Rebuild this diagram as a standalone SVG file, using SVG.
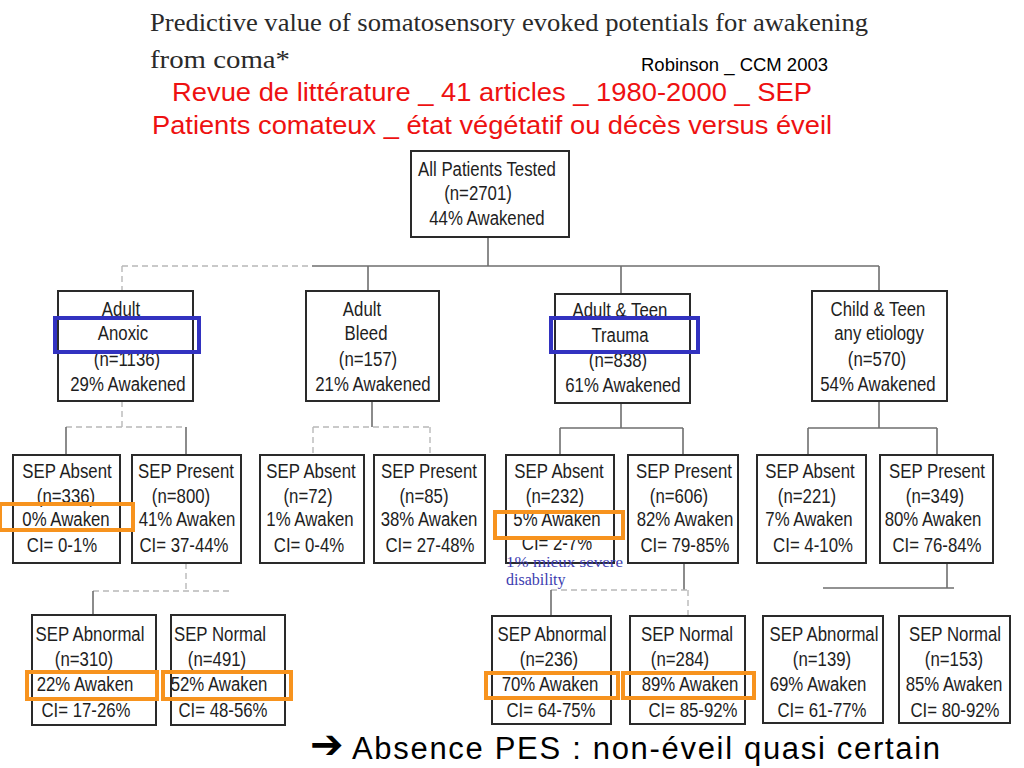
<svg xmlns="http://www.w3.org/2000/svg" width="1024" height="768" viewBox="0 0 1024 768">
<style>
.bg{fill:#ffffff}
.box{fill:#ffffff;stroke:#2a2a2a;stroke-width:2}
.t{font-family:"Liberation Sans",Arial,sans-serif;font-size:21px;fill:#1e1e1e;text-anchor:middle}
.c{fill:none;stroke:#6e6e6e;stroke-width:1.6}
.cf{fill:none;stroke:#b8b8b8;stroke-width:1.4;stroke-dasharray:6 4}
.hb{fill:none;stroke:#3232c0;stroke-width:4}
.ho{fill:none;stroke:#f7931e;stroke-width:4}
.red{font-family:"Liberation Sans",Arial,sans-serif;font-size:25px;fill:#ee1111}
</style>
<rect class="bg" x="0" y="0" width="1024" height="768"/>

<g id="header">
<text x="150" y="31" font-family="Liberation Serif,Times New Roman,serif" font-size="26" fill="#2a2a2a" textLength="718" lengthAdjust="spacingAndGlyphs">Predictive value of somatosensory evoked potentials for awakening</text>
<text x="150" y="68" font-family="Liberation Serif,Times New Roman,serif" font-size="26" fill="#2a2a2a" textLength="140" lengthAdjust="spacingAndGlyphs">from coma*</text>
<text x="641" y="71" font-family="Liberation Sans,Arial,sans-serif" font-size="18" fill="#000" textLength="187" lengthAdjust="spacingAndGlyphs">Robinson _ CCM 2003</text>
<text class="red" x="172" y="101" textLength="640" lengthAdjust="spacingAndGlyphs">Revue de littérature _ 41 articles _ 1980-2000 _ SEP</text>
<text class="red" x="152" y="134" textLength="680" lengthAdjust="spacingAndGlyphs">Patients comateux _ état végétatif ou décès versus éveil</text>
</g>

<g id="connectors">
<line class="c" x1="488" y1="237" x2="488" y2="266"/>
<line class="c" x1="312" y1="266" x2="879" y2="266"/>
<line class="cf" x1="122" y1="266" x2="312" y2="266"/>
<line class="cf" x1="122" y1="266" x2="122" y2="291"/>
<line class="c" x1="368" y1="266" x2="368" y2="291"/>
<line class="c" x1="621" y1="266" x2="621" y2="294"/>
<line class="c" x1="879" y1="266" x2="879" y2="291"/>

<line class="cf" x1="122" y1="401" x2="122" y2="427"/>
<line class="cf" x1="66" y1="427" x2="186" y2="427"/>
<line class="c" x1="66" y1="427" x2="66" y2="455"/>
<line class="c" x1="186" y1="427" x2="186" y2="455"/>

<line class="c" x1="372" y1="401" x2="372" y2="427"/>
<line class="cf" x1="313" y1="427" x2="430" y2="427"/>
<line class="cf" x1="313" y1="427" x2="313" y2="455"/>
<line class="cf" x1="430" y1="427" x2="430" y2="455"/>

<line class="c" x1="621" y1="403" x2="621" y2="428"/>
<line class="c" x1="560" y1="428" x2="683" y2="428"/>
<line class="c" x1="560" y1="428" x2="560" y2="455"/>
<line class="c" x1="683" y1="428" x2="683" y2="455"/>

<line class="c" x1="879" y1="401" x2="879" y2="428"/>
<line class="c" x1="808" y1="428" x2="937" y2="428"/>
<line class="c" x1="808" y1="428" x2="808" y2="455"/>
<line class="c" x1="937" y1="428" x2="937" y2="455"/>

<line class="cf" x1="186" y1="563" x2="186" y2="591"/>
<line class="cf" x1="93" y1="591" x2="230" y2="591"/>
<line class="c" x1="93" y1="591" x2="93" y2="615"/>

<line class="c" x1="684" y1="563" x2="684" y2="590"/>
<line class="cf" x1="551" y1="590" x2="688" y2="590"/>
<line class="c" x1="551" y1="590" x2="551" y2="616"/>
<line class="cf" x1="688" y1="590" x2="688" y2="616"/>

<line class="c" x1="947" y1="563" x2="947" y2="588"/>
<line class="c" x1="823" y1="588" x2="954" y2="588" stroke-width="3"/>
</g>

<g id="all-patients">
<rect class="box" x="411" y="151" width="158" height="86"/>
<text class="t" transform="translate(487 176) scale(0.8 1)">All Patients Tested</text>
<text class="t" transform="translate(478 200) scale(0.8 1)">(n=2701)</text>
<text class="t" transform="translate(487 225) scale(0.8 1)">44% Awakened</text>
</g>

<g id="adult-anoxic">
<rect class="box" x="58" y="291" width="135" height="110"/>
<text class="t" transform="translate(121 316) scale(0.8 1)">Adult</text>
<text class="t" transform="translate(123 340) scale(0.8 1)">Anoxic</text>
<text class="t" transform="translate(127 366) scale(0.8 1)">(n=1136)</text>
<text class="t" transform="translate(128 391) scale(0.8 1)">29% Awakened</text>
</g>

<g id="adult-bleed">
<rect class="box" x="306" y="291" width="133" height="110"/>
<text class="t" transform="translate(362 316) scale(0.8 1)">Adult</text>
<text class="t" transform="translate(366 340) scale(0.8 1)">Bleed</text>
<text class="t" transform="translate(368 366) scale(0.8 1)">(n=157)</text>
<text class="t" transform="translate(373 391) scale(0.8 1)">21% Awakened</text>
</g>

<g id="adult-teen-trauma">
<rect class="box" x="555" y="294" width="135" height="109"/>
<text class="t" transform="translate(620 317) scale(0.8 1)">Adult &amp; Teen</text>
<text class="t" transform="translate(620 342) scale(0.8 1)">Trauma</text>
<text class="t" transform="translate(618 367) scale(0.8 1)">(n=838)</text>
<text class="t" transform="translate(623 392) scale(0.8 1)">61% Awakened</text>
</g>

<g id="child-teen">
<rect class="box" x="812" y="291" width="135" height="110"/>
<text class="t" transform="translate(878 316) scale(0.8 1)">Child &amp; Teen</text>
<text class="t" transform="translate(879 340) scale(0.8 1)">any etiology</text>
<text class="t" transform="translate(877 366) scale(0.8 1)">(n=570)</text>
<text class="t" transform="translate(878 391) scale(0.8 1)">54% Awakened</text>
</g>

<g id="anoxic-sep-absent">
<rect class="box" x="13" y="455" width="107" height="108"/>
<text class="t" transform="translate(67 478) scale(0.8 1)">SEP Absent</text>
<text class="t" transform="translate(66 503) scale(0.8 1)">(n=336)</text>
<text class="t" transform="translate(66 526) scale(0.8 1)">0% Awaken</text>
<text class="t" transform="translate(62 552) scale(0.8 1)">CI= 0-1%</text>
</g>

<g id="anoxic-sep-present">
<rect class="box" x="132" y="455" width="109" height="108"/>
<text class="t" transform="translate(186 478) scale(0.8 1)">SEP Present</text>
<text class="t" transform="translate(181 503) scale(0.8 1)">(n=800)</text>
<text class="t" transform="translate(187 526) scale(0.8 1)">41% Awaken</text>
<text class="t" transform="translate(184 552) scale(0.8 1)">CI= 37-44%</text>
</g>

<g id="bleed-sep-absent">
<rect class="box" x="260" y="455" width="104" height="108"/>
<text class="t" transform="translate(311 478) scale(0.8 1)">SEP Absent</text>
<text class="t" transform="translate(308 503) scale(0.8 1)">(n=72)</text>
<text class="t" transform="translate(310 526) scale(0.8 1)">1% Awaken</text>
<text class="t" transform="translate(309 552) scale(0.8 1)">CI= 0-4%</text>
</g>

<g id="bleed-sep-present">
<rect class="box" x="374" y="455" width="111" height="108"/>
<text class="t" transform="translate(429 478) scale(0.8 1)">SEP Present</text>
<text class="t" transform="translate(424 503) scale(0.8 1)">(n=85)</text>
<text class="t" transform="translate(429 526) scale(0.8 1)">38% Awaken</text>
<text class="t" transform="translate(430 552) scale(0.8 1)">CI= 27-48%</text>
</g>

<g id="trauma-sep-absent">
<rect class="box" x="506" y="455" width="108" height="108"/>
<text class="t" transform="translate(559 478) scale(0.8 1)">SEP Absent</text>
<text class="t" transform="translate(555 503) scale(0.8 1)">(n=232)</text>
<text class="t" transform="translate(557 526) scale(0.8 1)">5% Awaken</text>
<text class="t" transform="translate(557 550) scale(0.8 1)">CI= 2-7%</text>
</g>

<g id="trauma-sep-present">
<rect class="box" x="628" y="455" width="110" height="108"/>
<text class="t" transform="translate(684 478) scale(0.8 1)">SEP Present</text>
<text class="t" transform="translate(679 503) scale(0.8 1)">(n=606)</text>
<text class="t" transform="translate(685 526) scale(0.8 1)">82% Awaken</text>
<text class="t" transform="translate(685 552) scale(0.8 1)">CI= 79-85%</text>
</g>

<g id="child-sep-absent">
<rect class="box" x="757" y="455" width="109" height="108"/>
<text class="t" transform="translate(810 478) scale(0.8 1)">SEP Absent</text>
<text class="t" transform="translate(807 503) scale(0.8 1)">(n=221)</text>
<text class="t" transform="translate(809 526) scale(0.8 1)">7% Awaken</text>
<text class="t" transform="translate(813 552) scale(0.8 1)">CI= 4-10%</text>
</g>

<g id="child-sep-present">
<rect class="box" x="880" y="455" width="113" height="108"/>
<text class="t" transform="translate(937 478) scale(0.8 1)">SEP Present</text>
<text class="t" transform="translate(935 503) scale(0.8 1)">(n=349)</text>
<text class="t" transform="translate(933 526) scale(0.8 1)">80% Awaken</text>
<text class="t" transform="translate(937 552) scale(0.8 1)">CI= 76-84%</text>
</g>

<g id="anoxic-sep-abnormal">
<rect class="box" x="32" y="615" width="124" height="110"/>
<text class="t" transform="translate(90 641) scale(0.8 1)">SEP Abnormal</text>
<text class="t" transform="translate(84 666) scale(0.8 1)">(n=310)</text>
<text class="t" transform="translate(85 691) scale(0.8 1)">22% Awaken</text>
<text class="t" transform="translate(86 717) scale(0.8 1)">CI= 17-26%</text>
</g>

<g id="anoxic-sep-normal">
<rect class="box" x="171" y="615" width="114" height="110"/>
<text class="t" transform="translate(220 641) scale(0.8 1)">SEP Normal</text>
<text class="t" transform="translate(217 666) scale(0.8 1)">(n=491)</text>
<text class="t" transform="translate(219 691) scale(0.8 1)">52% Awaken</text>
<text class="t" transform="translate(223 717) scale(0.8 1)">CI= 48-56%</text>
</g>

<g id="trauma-sep-abnormal">
<rect class="box" x="492" y="616" width="119" height="108"/>
<text class="t" transform="translate(552 641) scale(0.8 1)">SEP Abnormal</text>
<text class="t" transform="translate(549 666) scale(0.8 1)">(n=236)</text>
<text class="t" transform="translate(550 691) scale(0.8 1)">70% Awaken</text>
<text class="t" transform="translate(551 717) scale(0.8 1)">CI= 64-75%</text>
</g>

<g id="trauma-sep-normal">
<rect class="box" x="630" y="616" width="115" height="108"/>
<text class="t" transform="translate(687 641) scale(0.8 1)">SEP Normal</text>
<text class="t" transform="translate(680 666) scale(0.8 1)">(n=284)</text>
<text class="t" transform="translate(690 691) scale(0.8 1)">89% Awaken</text>
<text class="t" transform="translate(693 717) scale(0.8 1)">CI= 85-92%</text>
</g>

<g id="child-sep-abnormal">
<rect class="box" x="763" y="616" width="120" height="107"/>
<text class="t" transform="translate(824 641) scale(0.8 1)">SEP Abnormal</text>
<text class="t" transform="translate(822 666) scale(0.8 1)">(n=139)</text>
<text class="t" transform="translate(818 691) scale(0.8 1)">69% Awaken</text>
<text class="t" transform="translate(822 717) scale(0.8 1)">CI= 61-77%</text>
</g>

<g id="child-sep-normal">
<rect class="box" x="899" y="616" width="111" height="107"/>
<text class="t" transform="translate(955 641) scale(0.8 1)">SEP Normal</text>
<text class="t" transform="translate(954 666) scale(0.8 1)">(n=153)</text>
<text class="t" transform="translate(954 691) scale(0.8 1)">85% Awaken</text>
<text class="t" transform="translate(955 717) scale(0.8 1)">CI= 80-92%</text>
</g>

<g id="highlights">
<rect class="hb" x="55" y="318" width="144" height="34"/>
<rect class="hb" x="551" y="318" width="147" height="34"/>
<rect class="ho" x="0" y="504" width="133" height="26"/>
<rect class="ho" x="495" y="512" width="128" height="26"/>
<rect class="ho" x="27" y="672" width="130" height="27"/>
<rect class="ho" x="163" y="672" width="128" height="27"/>
<rect class="ho" x="486" y="673" width="132" height="25"/>
<rect class="ho" x="623" y="673" width="131" height="25"/>
</g>

<g id="note">
<text x="506" y="567" font-family="Liberation Serif,Times New Roman,serif" font-size="15" fill="#3c3cb0" textLength="117" lengthAdjust="spacingAndGlyphs">1% mieux severe</text>
<text x="506" y="585" font-family="Liberation Serif,Times New Roman,serif" font-size="16" fill="#3c3cb0">disability</text>
</g>

<g id="conclusion">
<text x="310" y="758" font-family="DejaVu Sans,sans-serif" font-size="40" font-weight="bold" fill="#000">➔</text>
<text x="352" y="759" font-family="Liberation Sans,Arial,sans-serif" font-size="31" fill="#000" textLength="588">Absence PES : non-éveil quasi certain</text>
</g>
</svg>
